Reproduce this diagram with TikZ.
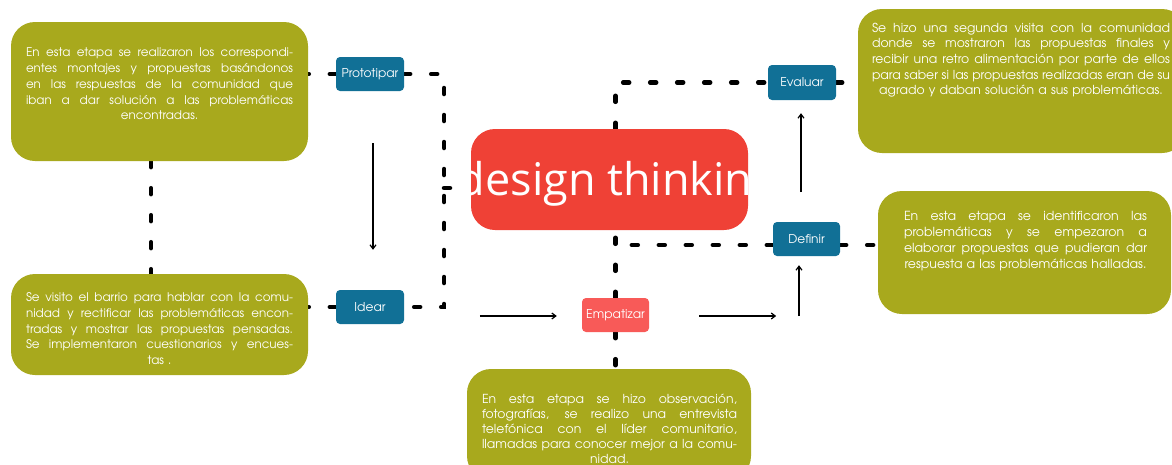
\documentclass[tikz,border=0pt]{standalone}
\usepackage{fontspec}
\setmainfont{TeX Gyre Adventor}
\newfontfamily\dtfont{Open Sans}
\usetikzlibrary{arrows.meta}
\pgfdeclarelayer{background}
\pgfsetlayers{background,main}
\definecolor{olivefill}{RGB}{168,169,29}
\definecolor{stageblue}{RGB}{17,112,150}
\definecolor{dtred}{RGB}{239,65,54}
\definecolor{empred}{RGB}{248,90,88}
\newcommand{\jl}[1]{\makebox[\hsize][s]{\spaceskip=\fontdimen2\font plus 1fill minus \fontdimen4\font #1}\\}
\begin{document}
\begin{tikzpicture}[x=1pt,y=-1pt,
 olivebox/.style={fill=olivefill, draw=none, rounded corners=24pt, inner sep=0pt},
 stagebox/.style={fill=stageblue, rounded corners=4pt, minimum width=68pt, minimum height=34pt, inner sep=0pt, text=white, font=\fontsize{12.2}{14}\selectfont},
 para/.style={text=white, inner sep=0pt, anchor=north, align=center, font=\fontsize{12.4}{15.7}\selectfont},
 dsh/.style={line width=4.5pt, line cap=round, dash pattern=on 6pt off 21pt},
 arr/.style={line width=1.2pt, -{Straight Barb[length=4pt,width=6pt]}}]
\useasboundingbox (0,0) rectangle (1172,464);
\clip (0,0) rectangle (1172,464);
% olive boxes
\node[olivebox, minimum width=297pt, minimum height=139pt] (tl) at (159.5,91.5) {};
\node[olivebox, minimum width=297pt, minimum height=101pt] (bl) at (159.5,324.5) {};
\node[olivebox, minimum width=284pt, minimum height=111pt] (bc) at (609,424.5) {};
\node[olivebox, minimum width=328pt, minimum height=144pt] (rt) at (1022,81) {};
\node[olivebox, minimum width=293pt, minimum height=123pt] (rb) at (1024.5,252.5) {};
% texts
\node[para, text width=267pt, font=\fontsize{11.9}{15.7}\selectfont] (tlt) at (159.5,48) {%
\jl{En esta etapa se realizaron los correspondi-}
\jl{entes montajes y propuestas basándonos}
\jl{en las respuestas de la comunidad que}
\jl{iban a dar solución a las problemáticas}
encontradas.};
\node[para, text width=267pt, font=\fontsize{11.9}{15.7}\selectfont] (blt) at (159.5,292.5) {%
\jl{Se visito el barrio para hablar con la comu-}
\jl{nidad y rectificar las problemáticas encon-}
\jl{tradas y mostrar las propuestas pensadas.}
\jl{Se implementaron cuestionarios y encues-}
tas .};
\node[para, text width=255pt, font=\fontsize{12.4}{15}\selectfont] (bct) at (609.5,393.5) {%
\jl{En esta etapa se hizo observación,}
\jl{fotografías, se realizo una entrevista}
\jl{telefónica con el líder comunitario,}
\jl{llamadas para conocer mejor a la comu-}
nidad.};
\node[para, text width=298pt, font=\fontsize{12.4}{15.7}\selectfont] (rtt) at (1021,22.5) {%
\jl{Se hizo una segunda visita con la comunidad}
\jl{donde se mostraron las propuestas finales y}
\jl{recibir una retro alimentación por parte de ellos}
\jl{para saber si las propuestas realizadas eran de su}
agrado y daban solución a sus problemáticas.};
\node[para, text width=243pt, font=\fontsize{12.5}{16}\selectfont] (rbt) at (1025.5,211.5) {%
\jl{En esta etapa se identificaron las}
\jl{problemáticas y se empezaron a}
\jl{elaborar propuestas que pudieran dar}
respuesta a las problemáticas halladas.};
% central node
\node[fill=dtred, rounded corners=24pt, minimum width=277pt, minimum height=101pt, inner sep=0pt] (dt) at (609.5,179.5) {};
\begin{scope}
\clip (dt.north west) rectangle (dt.south east);
\node[font=\dtfont\fontsize{45}{50}\selectfont, text=white, anchor=base west, inner sep=0pt] (dtt) at (457.5,195) {design thinking};
\end{scope}
% stage nodes
\node[stagebox] (proto) at (370,74) {Prototipar};
\node[stagebox] (idear) at (370,307) {Idear};
\node[stagebox, fill=empred, minimum width=67pt] (emp) at (615.5,315) {Empatizar};
\node[stagebox, minimum width=67pt] (def) at (806.5,239) {Definir};
\node[stagebox, minimum height=35pt] (eval) at (802,82.5) {Evaluar};
\coordinate (j1) at (444,188);
\begin{pgfonlayer}{background}
\draw[dsh] (proto.east) -- ++(40,0) |- (idear.east);
\draw[dsh] (j1) -- (dt.west |- j1);
\draw[dsh] (proto.west) -- (proto.west -| tl.east);
\draw[dsh] (idear.west) -- (idear.west -| bl.east);
\draw[dsh] ([shift={(-8.5,0)}]tl.south) -- ([shift={(-8.5,0)}]tl.south |- bl.north);
\draw[dsh] (dt.north -| emp.north) |- (eval.west);
\draw[dsh] (emp.north) -- (emp.north |- dt.south);
\draw[dsh] (emp.south) -- (emp.south |- bc.north);
\draw[dsh] ([shift={(0,6)}]def.west) -- ([shift={(0,6)}]def.west -| emp.north);
\draw[dsh] ([shift={(0,6)}]def.east) -- ([shift={(0,6)}]def.east -| rb.west);
\draw[dsh] (eval.east) -- (eval.east -| rt.west);
\end{pgfonlayer}
% thin arrows
\draw[arr] ([shift={(3,52)}]proto.south) -- ([shift={(3,-40)}]idear.north);
\draw[arr] ([shift={(-102,1)}]emp.west) -- ([shift={(-25,1)}]emp.west);
\draw[arr] ([shift={(50,1)}]emp.east) -- ([shift={(127,1)}]emp.east);
\draw[arr] ([shift={(-7.5,60)}]def.south) -- ([shift={(-7.5,9)}]def.south);
\draw[arr] ([shift={(-1,92)}]eval.south) -- ([shift={(-1,13)}]eval.south);
\end{tikzpicture}
\end{document}
